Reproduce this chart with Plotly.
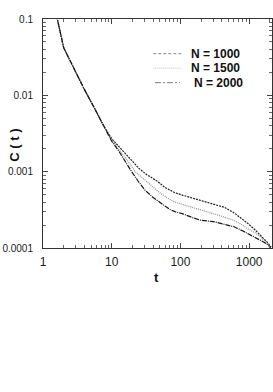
import plotly.graph_objects as go
import numpy as np

# shared early-time part
t_common = [1.55, 1.6, 2.0, 3.0, 3.9, 5.7, 7.5]
c_common = [0.115, 0.104, 0.042, 0.020, 0.0125, 0.0066, 0.0041]

# N = 1000 (upper curve at late times)
t_1000 = [10, 13, 17, 25, 32, 45, 60, 83, 109, 150, 200, 300, 440, 600, 800, 955, 1200, 1450, 1667, 1900, 2080]
c_1000 = [0.0027, 0.0021, 0.0016, 0.0011, 0.00092, 0.00076, 0.00062, 0.00053, 0.00049, 0.00045, 0.00042,
          0.00038, 0.00034, 0.00029, 0.00024, 0.00021, 0.000175, 0.000148, 0.00013, 0.000115, 0.000102]

# N = 1500 (middle curve)
t_1500 = [10, 13, 17, 22, 30, 38, 50, 65, 83, 109, 150, 200, 300, 440, 600, 800, 955, 1200, 1450, 1667, 2080]
c_1500 = [0.0026, 0.0019, 0.0014, 0.0010, 0.00078, 0.00066, 0.00053, 0.00045, 0.00040, 0.00037, 0.00034,
          0.00031, 0.00028, 0.000254, 0.00023, 0.0002, 0.000178, 0.00016, 0.00014, 0.000125, 0.000102]

# N = 2000 (lower curve)
t_2000 = [10, 12.5, 16, 19.5, 24, 30, 40, 55, 70, 83, 109, 150, 200, 300, 440, 600, 800, 955, 1200, 1450, 1667, 2080]
c_2000 = [0.0025, 0.0019, 0.0013, 0.0010, 0.00076, 0.00058, 0.00046, 0.00037, 0.00032, 0.00030, 0.00028,
          0.00025, 0.00023, 0.000222, 0.000205, 0.00019, 0.000168, 0.000155, 0.00014, 0.000128, 0.000118, 0.000102]

x_ticks = [1, 10, 100, 1000]
x_tick_text = ["1", "10", "100", "1000"]
y_ticks = [0.0001, 0.001, 0.01, 0.1]
y_tick_text = ["0.0001", "0.001", "0.01", "0.1"]
legend_labels = ["N = 1000", "N = 1500", "N = 2000"]

colors = ["#222222", "#8f8f8f", "#151515"]
dashes = ["2px,1px", "1px,1px", "5px,1px,1px,1px"]
legend_colors = ["#8a8a8a", "#c4c4c4", "#7a7a7a"]
legend_dashes = ["3px,2px", "1px,1px", "6px,2px,2px,2px"]

series_t = [t_1000, t_1500, t_2000]
series_c = [c_1000, c_1500, c_2000]

fig = go.Figure()
for name, t, c, color, dash in zip(legend_labels, series_t, series_c, colors, dashes):
    fig.add_trace(go.Scatter(
        x=t_common + t, y=c_common + c, mode="lines", name=name,
        line=dict(color=color, width=1.2, dash=dash), showlegend=False,
    ))

font_family = "Liberation Sans, Arial, sans-serif"

minor_x = [m * 10 ** k for k in range(0, 4) for m in range(2, 10)]
minor_y = [m * 10 ** k for k in range(-4, -1) for m in range(2, 10)]

fig.update_layout(
    width=273, height=392,
    margin=dict(l=43, r=1, t=19, b=144),
    paper_bgcolor="white", plot_bgcolor="white",
    font=dict(family=font_family, size=11, color="#222222"),
    showlegend=False,
)

fig.update_xaxes(
    type="log", range=[0, np.log10(2150)],
    tickvals=x_ticks, ticktext=x_tick_text,
    tickfont=dict(size=12, color="#1a1a1a"),
    ticks="inside", ticklen=5, tickcolor="#444444", tickwidth=1,
    minor=dict(tickvals=minor_x, ticks="inside", ticklen=3, tickcolor="#666666"),
    showline=True, linecolor="#333333", linewidth=1, mirror="ticks",
    showgrid=False, zeroline=False, automargin=False,
    ticklabelstandoff=3,
)
fig.update_yaxes(
    type="log", range=[-4, -1],
    tickvals=y_ticks, ticktext=y_tick_text,
    tickfont=dict(size=10, color="#1a1a1a"),
    ticks="inside", ticklen=5, tickcolor="#444444", tickwidth=1,
    minor=dict(tickvals=minor_y, ticks="inside", ticklen=3, tickcolor="#666666"),
    showline=True, linecolor="#333333", linewidth=1, mirror="ticks",
    showgrid=False, zeroline=False, automargin=False,
    ticklabelstandoff=7,
)

# manual legend (line samples + bold labels)
row_y = [0.8486, 0.7853, 0.7219]
sample_x0 = [0.4817, 0.4817, 0.4891]
sample_x1 = [0.6039, 0.6060, 0.5983]
text_x = [0.6389, 0.6370, 0.6493]
for label, ry, x0, x1, tx, lc, dash in zip(legend_labels, row_y, sample_x0, sample_x1, text_x, legend_colors, legend_dashes):
    fig.add_shape(type="line", xref="paper", yref="paper", x0=x0, x1=x1, y0=ry, y1=ry,
                  line=dict(color=lc, width=1, dash=dash))
    fig.add_annotation(text="<b>" + label + "</b>", xref="paper", yref="paper",
                       x=tx, y=ry, xanchor="left", yanchor="middle", showarrow=False,
                       font=dict(family=font_family, size=12, color="#111111"))

fig.add_annotation(
    text="<b>C ( t )</b>", textangle=-90, xref="paper", yref="paper",
    x=-0.122, y=0.447, xanchor="center", yanchor="middle", showarrow=False,
    font=dict(family=font_family, size=13, color="#111111"),
)
fig.add_annotation(
    text="<b>t</b>", xref="paper", yref="paper",
    x=0.4965, y=-0.127, xanchor="center", yanchor="middle", showarrow=False,
    font=dict(family=font_family, size=13, color="#111111"),
)

fig.write_html("out.html", config={"displayModeBar": False},
               post_script="document.body.style.margin='0';")
